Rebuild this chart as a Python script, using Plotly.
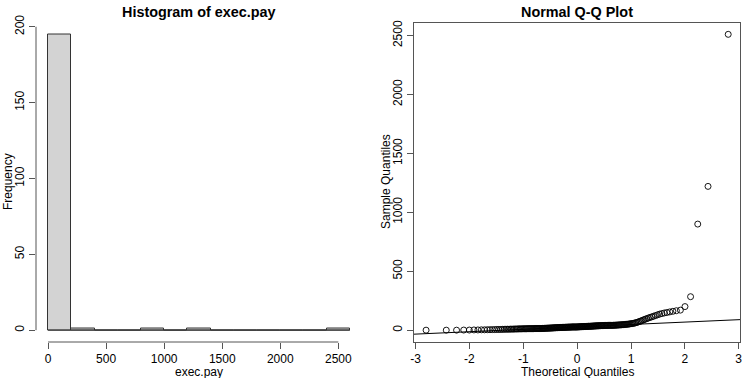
import numpy as np
import pandas as pd
import plotly.graph_objects as go
from statistics import NormalDist

exec_pay = [
    0, 0, 0, 1, 1, 2, 2, 3, 3, 4,
    4, 5, 5, 6, 6, 6, 7, 7, 8, 8,
    8, 9, 9, 9, 10, 10, 10, 11, 11, 11,
    11, 12, 12, 12, 12, 13, 13, 13, 13, 13,
    13, 13, 14, 14, 14, 14, 14, 14, 14, 14,
    14, 15, 15, 15, 16, 16, 16, 17, 17, 17,
    18, 18, 18, 19, 19, 19, 20, 20, 20, 21,
    21, 21, 22, 22, 22, 23, 23, 23, 24, 24,
    24, 24, 25, 25, 25, 25, 26, 26, 26, 26,
    26, 27, 27, 27, 27, 27, 27, 27, 27, 27,
    28, 28, 28, 29, 29, 29, 30, 30, 30, 31,
    31, 31, 32, 32, 32, 33, 33, 33, 33, 34,
    34, 34, 35, 35, 35, 36, 36, 36, 37, 37,
    37, 38, 38, 38, 39, 39, 39, 40, 40, 40,
    40, 40, 41, 41, 41, 41, 41, 41, 41, 42,
    42, 42, 43, 43, 44, 44, 45, 45, 46, 47,
    47, 48, 49, 50, 51, 52, 53, 55, 56, 58,
    60, 63, 66, 70, 74, 78, 83, 88, 93, 98,
    103, 108, 113, 118, 124, 130, 136, 141, 146, 150,
    155, 160, 165, 170, 200, 284, 900, 1220, 2510,
]
hist_breaks = list(range(0, 2601, 200))
x_ticks_hist = [0, 500, 1000, 1500, 2000, 2500]
y_ticks_hist = [0, 50, 100, 150, 200]
x_ticks_qq = [-3, -2, -1, 0, 1, 2, 3]
y_ticks_qq = [0, 500, 1000, 1500, 2000, 2500]

W, H = 756, 378
FONT = "Liberation Sans, Arial, sans-serif"
AXC = "#555555"

data = np.array(sorted(exec_pay), dtype=float)
n = len(data)

# histogram counts (R style: right-closed bins, include lowest)
cats = pd.cut(data, bins=hist_breaks, right=True, include_lowest=True)
counts = pd.Series(cats).value_counts(sort=False).values
centers = [(hist_breaks[i] + hist_breaks[i + 1]) / 2 for i in range(len(hist_breaks) - 1)]
bw = hist_breaks[1] - hist_breaks[0]

# Q-Q
nd = NormalDist()
probs = [(i + 0.5) / n for i in range(n)]
theo = np.array([nd.inv_cdf(p) for p in probs])
q1, q3 = np.quantile(data, [0.25, 0.75])
z1, z3 = nd.inv_cdf(0.25), nd.inv_cdf(0.75)
slope = (q3 - q1) / (z3 - z1)
intercept = q1 - slope * z1

def ext(lo, hi):
    d = (hi - lo) * 0.04
    return [lo - d, hi + d]

hx = ext(hist_breaks[0], hist_breaks[-1])
hy = ext(0, max(counts))
qx = ext(theo.min(), theo.max())
qy = ext(data.min(), data.max())

def px(v):
    return v / W

ydom = [1 - 342 / H, 1 - 22.5 / H]
ldom = [36 / W, 362 / W]
rdom = [414 / W, 740.3 / W]

fig = go.Figure()
fig.add_trace(go.Bar(
    x=centers, y=counts, width=bw, marker=dict(color="#D3D3D3", line=dict(color="#333333", width=1)),
    xaxis="x", yaxis="y", showlegend=False,
))
# zero-height bins drawn as a baseline like R
fig.add_trace(go.Scatter(
    x=[hist_breaks[0], hist_breaks[-1]], y=[0, 0], mode="lines",
    line=dict(color="#333333", width=1), xaxis="x", yaxis="y", showlegend=False,
))
fig.add_trace(go.Scatter(
    x=theo, y=data, mode="markers",
    marker=dict(symbol="circle-open", size=6, color="black", line=dict(width=0.9, color="black")),
    xaxis="x2", yaxis="y2", showlegend=False,
))
fig.add_trace(go.Scatter(
    x=qx, y=[intercept + slope * v for v in qx], mode="lines",
    line=dict(color="black", width=1), xaxis="x2", yaxis="y2", showlegend=False,
))

tickfont = dict(family=FONT, size=12, color="black")
common = dict(showgrid=False, zeroline=False, ticks="outside", ticklen=6, tickwidth=1,
              tickcolor=AXC, tickfont=tickfont, automargin=False)

fig.update_layout(
    template="none",
    width=W, height=H, margin=dict(l=0, r=0, t=0, b=0, pad=0),
    paper_bgcolor="white", plot_bgcolor="white",
    xaxis=dict(domain=ldom, range=hx, tickvals=x_ticks_hist, showline=False, anchor="y", **common),
    yaxis=dict(domain=ydom, range=hy, tickvals=y_ticks_hist, tickangle=-90, showline=False, anchor="x", **common),
    xaxis2=dict(domain=rdom, range=qx, tickvals=x_ticks_qq, ticktext=[str(v) for v in x_ticks_qq],
                showline=True, linecolor=AXC, linewidth=1, mirror=True, anchor="y2", **common),
    yaxis2=dict(domain=ydom, range=qy, tickvals=y_ticks_qq, tickangle=-90, showline=True, linecolor=AXC,
                linewidth=1, mirror=True, anchor="x2", **common),
    bargap=0,
)

# R-style axis lines for the histogram (only across the tick range)
fig.add_shape(type="line", xref="x", yref="paper", x0=x_ticks_hist[0], x1=x_ticks_hist[-1],
              y0=ydom[0], y1=ydom[0], line=dict(color=AXC, width=1))
fig.add_shape(type="line", xref="paper", yref="y", x0=ldom[0], x1=ldom[0],
              y0=y_ticks_hist[0], y1=y_ticks_hist[-1], line=dict(color=AXC, width=1))

def ann(text, x, y, size=12, bold=False, angle=0):
    fig.add_annotation(text=f"<b>{text}</b>" if bold else text, x=px(x), y=1 - y / H,
                       xref="paper", yref="paper", showarrow=False, xanchor="center", yanchor="middle",
                       textangle=angle, font=dict(family=FONT, size=size, color="black"))

ann("Histogram of exec.pay", 199, 12, size=14.4, bold=True)
ann("Normal Q-Q Plot", 577, 12, size=14.4, bold=True)
ann("exec.pay", 199, 372)
ann("Theoretical Quantiles", 577, 372)
ann("Frequency", 8, 182, angle=-90)
ann("Sample Quantiles", 386, 182, angle=-90)

fig.write_html("out.html")
